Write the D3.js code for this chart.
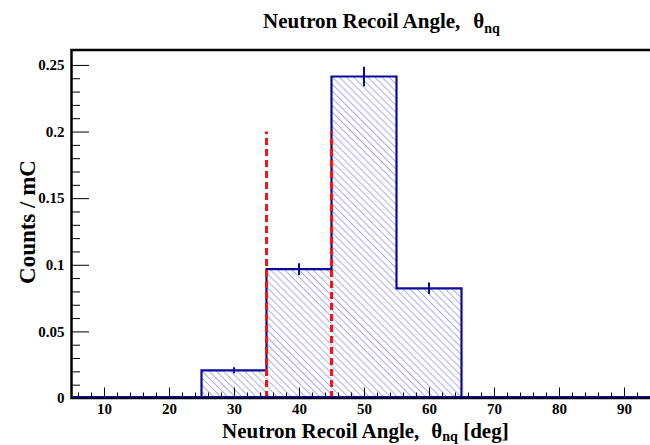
<!DOCTYPE html>
<html>
<head>
<meta charset="utf-8">
<script src="https://cdn.jsdelivr.net/npm/d3@7"></script>
<style>
  html, body { margin: 0; padding: 0; background: #fff; }
  svg { display: block; }
  text { font-family: "Liberation Serif", "Times New Roman", serif; font-weight: bold; white-space: pre; }
</style>
</head>
<body>
<svg id="chart" width="650" height="445"></svg>
<script>
// ---- data ----
const binEdges   = [5, 15, 25, 35, 45, 55, 65, 75, 85, 95];
const binCenters = [10, 20, 30, 40, 50, 60, 70, 80, 90];
const counts     = [0, 0, 0.0208, 0.0968, 0.2413, 0.0823, 0, 0, 0];
const errors     = [0, 0, 0.0023, 0.0044, 0.0073, 0.0043, 0, 0, 0];
const cutLines   = [35, 45];
const cutTop     = 0.2;
const xTickValues = [10, 20, 30, 40, 50, 60, 70, 80, 90];
const yTickValues = [0, 0.05, 0.1, 0.15, 0.2, 0.25];
const yTickLabels = ["0", "0.05", "0.1", "0.15", "0.2", "0.25"];
const xDomain = [5, 95];
const yDomain = [0, 0.2612];

// ---- layout ----
const svg = d3.select("#chart");
const L = 71.5, R = 656.5, T = 50, B = 398;
const x = d3.scaleLinear().domain(xDomain).range([L, R]);
const y = d3.scaleLinear().domain(yDomain).range([B, T]);

const histColor = "#0b0b9a";

// hatch pattern
const defs = svg.append("defs");
const pat = defs.append("pattern")
  .attr("id", "hatch")
  .attr("patternUnits", "userSpaceOnUse")
  .attr("width", 5).attr("height", 10)
  .attr("patternTransform", "rotate(-45)");
pat.append("line")
  .attr("x1", 0).attr("y1", -2).attr("x2", 0).attr("y2", 12)
  .attr("stroke", "#5a5ae6").attr("stroke-width", 1);

// histogram data as step points
const stepPts = binCenters.map((c, i) => [binEdges[i], counts[i]]);
stepPts.push([binEdges[binEdges.length - 1], counts[counts.length - 1]]);

const area = d3.area().curve(d3.curveStepAfter)
  .x(d => x(d[0])).y0(y(0)).y1(d => y(d[1]));
const line = d3.line().curve(d3.curveStepAfter)
  .x(d => x(d[0])).y(d => y(d[1]));

svg.append("path").datum(stepPts)
  .attr("d", area).attr("fill", "url(#hatch)").attr("stroke", "none");

svg.append("path").datum(stepPts)
  .attr("d", line).attr("fill", "none")
  .attr("stroke", histColor).attr("stroke-width", 2.2);

// error bars
svg.append("g").selectAll("line")
  .data(binCenters.map((c, i) => ({c, v: counts[i], e: errors[i]})).filter(d => d.e > 0))
  .join("line")
  .attr("x1", d => x(d.c)).attr("x2", d => x(d.c))
  .attr("y1", d => y(d.v - d.e)).attr("y2", d => y(d.v + d.e))
  .attr("stroke", histColor).attr("stroke-width", 2);

// cut lines
svg.append("g").selectAll("line")
  .data(cutLines).join("line")
  .attr("x1", d => x(d)).attr("x2", d => x(d))
  .attr("y1", y(0)).attr("y2", y(cutTop))
  .attr("stroke", "#ff1010").attr("stroke-width", 3)
  .attr("stroke-dasharray", "7,4");

// axes
const xMinor = d3.range(6, 95, 2).filter(v => v % 10 !== 0);
const yMinor = d3.range(0.01, 0.26, 0.01).filter(v => Math.abs(v / 0.05 - Math.round(v / 0.05)) > 1e-6);

const gx = svg.append("g").attr("transform", `translate(0,${B})`)
  .call(d3.axisBottom(x).tickValues(xTickValues).tickSize(-10.5).tickPadding(3).tickFormat(d3.format("d")));
const gxm = svg.append("g").attr("transform", `translate(0,${B})`)
  .call(d3.axisBottom(x).tickValues(xMinor).tickSize(-5.5).tickFormat(""));
const gy = svg.append("g").attr("transform", `translate(${L},0)`)
  .call(d3.axisLeft(y).tickValues(yTickValues).tickSize(-17.5).tickPadding(7)
    .tickFormat((d, i) => yTickLabels[i]));
const gym = svg.append("g").attr("transform", `translate(${L},0)`)
  .call(d3.axisLeft(y).tickValues(yMinor).tickSize(-8.5).tickFormat(""));

[gx, gxm, gy, gym].forEach(g => {
  g.select(".domain").remove();
  g.selectAll(".tick line").attr("stroke", "#000").attr("stroke-width", 1);
  g.selectAll("text").attr("fill", "#000").style("font-size", "15px")
    .style("font-family", '"Liberation Serif", serif').style("font-weight", "bold");
});
gx.selectAll("text").attr("dy", "0.85em");

// frame
svg.append("path")
  .attr("d", `M${R},${T}H${L}V${B}H${R}`)
  .attr("fill", "none").attr("stroke", "#000").attr("stroke-width", 2.5);
// baseline histogram redraw over frame bottom
svg.append("line").attr("x1", L + 1).attr("x2", R).attr("y1", B - 1.2).attr("y2", B - 1.2)
  .attr("stroke", histColor).attr("stroke-width", 1.5);

// title
const title = svg.append("text").attr("x", 263).attr("y", 28)
  .attr("text-anchor", "start").style("font-size", "21px");
title.append("tspan").text("Neutron Recoil Angle,");
title.append("tspan").attr("dx", 13).text("θ");
title.append("tspan").attr("dy", 5).style("font-size", "14px").text("nq");

// x-axis title
const xt = svg.append("text").attr("x", 222).attr("y", 437.5)
  .attr("text-anchor", "start").style("font-size", "21px");
xt.append("tspan").text("Neutron Recoil Angle,");
xt.append("tspan").attr("dx", 12).text("θ");
xt.append("tspan").attr("dy", 3.5).style("font-size", "14px").text("nq");
xt.append("tspan").attr("dy", -3.5).text(" [deg]");

// y-axis title
svg.append("text")
  .attr("transform", `translate(35,${222}) rotate(-90)`)
  .attr("text-anchor", "middle").style("font-size", "23px")
  .text("Counts / mC");
</script>
</body>
</html>
